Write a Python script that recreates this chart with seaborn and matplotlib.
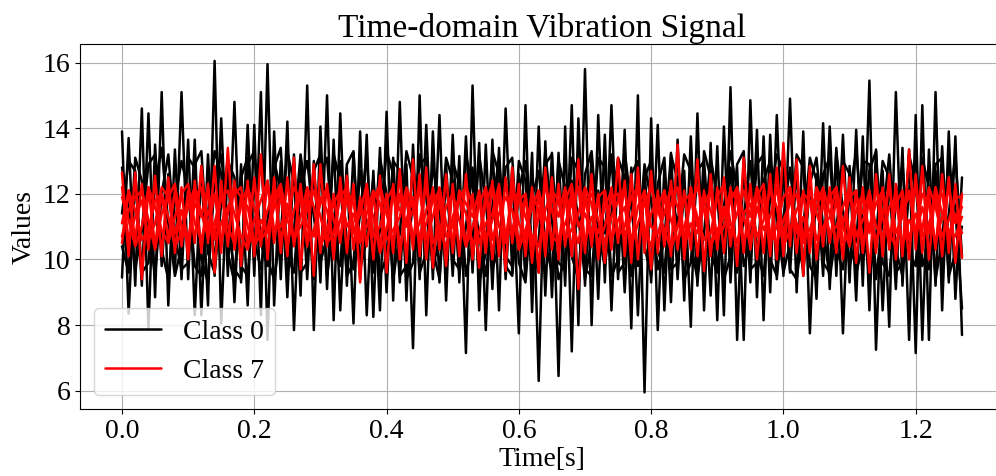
import matplotlib
matplotlib.use("Agg")
import matplotlib.pyplot as plt
import seaborn as sns

time_s = [
    0.00, 0.01, 0.02, 0.03, 0.04, 0.05, 0.06, 0.07, 0.08, 0.09, 0.10, 0.11, 0.12, 0.13, 0.14, 0.15,
    0.16, 0.17, 0.18, 0.19, 0.20, 0.21, 0.22, 0.23, 0.24, 0.25, 0.26, 0.27, 0.28, 0.29, 0.30, 0.31,
    0.32, 0.33, 0.34, 0.35, 0.36, 0.37, 0.38, 0.39, 0.40, 0.41, 0.42, 0.43, 0.44, 0.45, 0.46, 0.47,
    0.48, 0.49, 0.50, 0.51, 0.52, 0.53, 0.54, 0.55, 0.56, 0.57, 0.58, 0.59, 0.60, 0.61, 0.62, 0.63,
    0.64, 0.65, 0.66, 0.67, 0.68, 0.69, 0.70, 0.71, 0.72, 0.73, 0.74, 0.75, 0.76, 0.77, 0.78, 0.79,
    0.80, 0.81, 0.82, 0.83, 0.84, 0.85, 0.86, 0.87, 0.88, 0.89, 0.90, 0.91, 0.92, 0.93, 0.94, 0.95,
    0.96, 0.97, 0.98, 0.99, 1.00, 1.01, 1.02, 1.03, 1.04, 1.05, 1.06, 1.07, 1.08, 1.09, 1.10, 1.11,
    1.12, 1.13, 1.14, 1.15, 1.16, 1.17, 1.18, 1.19, 1.20, 1.21, 1.22, 1.23, 1.24, 1.25, 1.26, 1.27,
]

black_a = [
    13.9, 8.35, 12.6, 9.2, 14.45, 8.85, 15.1, 8.6, 13.35, 9.4, 13.65, 8.3, 12.85, 8.6, 16.05, 8.05,
    13.0, 8.7, 12.9, 8.6, 14.1, 8.3, 15.95, 8.6, 13.0, 8.85, 13.2, 8.9, 15.3, 7.85, 14.05, 9.1,
    13.65, 8.45, 12.8, 8.05, 13.9, 8.3, 12.7, 8.45, 14.5, 8.75, 14.8, 8.75, 13.5, 9.4, 14.1, 9.4,
    14.4, 8.75, 13.8, 9.3, 13.75, 9.6, 13.55, 7.85, 13.65, 8.45, 14.6, 9.6, 12.6, 9.4, 13.25, 6.3,
    13.6, 8.85, 13.25, 9.2, 14.7, 8.0, 15.8, 8.0, 14.4, 9.3, 14.7, 9.4, 13.95, 7.9, 15.0, 5.95,
    14.3, 7.85, 12.8, 8.7, 13.65, 8.75, 13.75, 9.2, 12.7, 8.9, 13.45, 8.3, 15.25, 7.55, 13.1, 9.3,
    13.95, 8.15, 13.8, 9.4, 12.9, 9.6, 12.8, 9.5, 12.7, 8.8, 14.15, 9.1, 13.4, 7.75, 12.85, 8.75,
    13.75, 8.45, 13.35, 8.45, 12.6, 9.1, 13.4, 7.55, 14.4, 7.55, 13.35, 9.2, 13.45, 9.3, 13.75, 7.7,
]
black_b = [
    9.45, 13.7, 9.2, 14.6, 7.9, 13.5, 9.8, 12.6, 9.6, 15.1, 9.4, 13.65, 8.3, 13.2, 9.5, 14.3,
    9.5, 14.8, 9.3, 14.1, 9.5, 15.1, 7.55, 13.9, 9.4, 14.2, 7.85, 12.9, 9.4, 13.0, 9.3, 15.0,
    8.15, 14.45, 9.2, 13.25, 9.4, 13.8, 8.25, 13.4, 9.0, 13.1, 9.3, 12.9, 7.3, 15.0, 8.3, 13.9,
    9.3, 12.9, 9.5, 13.15, 7.15, 15.3, 8.45, 13.5, 9.1, 13.4, 9.4, 12.8, 7.75, 14.7, 8.4, 14.05,
    8.9, 13.25, 6.45, 14.05, 7.2, 14.3, 9.2, 13.2, 8.8, 13.8, 8.45, 12.9, 9.0, 12.8, 8.3, 12.8,
    9.3, 14.1, 8.45, 13.25, 9.4, 12.7, 7.95, 14.45, 8.45, 13.55, 8.15, 14.05, 9.3, 12.8, 7.55, 14.85,
    8.85, 13.75, 9.0, 14.4, 9.5, 14.9, 9.0, 13.9, 7.75, 12.6, 9.5, 14.05, 9.5, 13.8, 9.3, 13.95,
    9.2, 15.45, 7.25, 12.7, 7.95, 15.1, 9.2, 13.35, 7.15, 14.7, 7.55, 15.1, 8.45, 13.9, 8.8, 12.5,
]
black_c = [
    12.8, 11.6, 9.7, 10.9, 12.9, 13.2, 10.3, 9.4, 11.8, 13.0, 12.1, 9.8, 9.5, 11.4, 13.3, 12.6,
    10.2, 9.3, 12.5, 13.1, 10.6, 9.7, 11.2, 12.8, 13.4, 10.1, 9.6, 12.2, 13.0, 11.3, 9.9, 10.7,
    13.2, 12.4, 9.5, 9.9, 12.7, 11.0, 10.4, 13.1, 12.0, 9.4, 10.8, 13.3, 12.5, 9.6, 10.2, 12.9,
    11.5, 9.8, 13.0, 12.3, 9.5, 10.6, 13.2, 11.7, 9.7, 10.4, 12.8, 13.1, 9.9, 9.3, 11.9, 12.7,
    10.5, 9.6, 13.0, 12.2, 10.1, 9.4, 12.6, 13.3, 10.8, 9.8, 11.4, 13.1, 12.5, 9.5, 10.3, 12.9,
    11.8, 9.7, 10.6, 13.2, 12.4, 9.4, 9.9, 12.7, 13.0, 10.2, 9.6, 11.6, 13.3, 12.1, 9.8, 10.5,
    12.9, 13.2, 10.0, 9.5, 11.3, 12.8, 10.7, 9.7, 12.3, 13.1, 11.0, 9.4, 10.9, 13.0, 12.6, 9.6,
    10.4, 12.7, 13.3, 9.9, 9.5, 11.7, 12.9, 10.2, 9.8, 13.1, 12.2, 9.4, 10.6, 13.0, 11.5, 8.5,
]
black_d = [
    11.4, 13.0, 12.7, 9.6, 9.9, 12.3, 13.4, 11.1, 9.5, 10.4, 13.1, 12.8, 10.0, 9.3, 12.4, 13.2,
    11.0, 9.7, 9.4, 12.9, 13.3, 10.5, 9.8, 13.0, 12.1, 9.6, 10.9, 13.2, 11.7, 9.4, 12.6, 13.1,
    10.3, 9.8, 12.9, 13.3, 9.7, 10.6, 12.5, 9.5, 10.1, 13.0, 12.7, 9.4, 9.9, 13.2, 11.9, 9.7,
    10.7, 13.1, 12.4, 9.6, 11.0, 12.8, 9.3, 10.2, 13.3, 12.6, 9.8, 9.5, 12.1, 13.0, 10.4, 9.6,
    12.9, 13.2, 9.9, 9.7, 12.4, 11.3, 9.4, 10.6, 13.1, 12.8, 9.5, 10.0, 13.3, 11.6, 9.8, 12.5,
    13.0, 10.3, 9.6, 12.2, 11.0, 13.2, 12.7, 9.5, 10.8, 13.1, 11.9, 9.4, 10.1, 12.9, 13.3, 9.7,
    9.9, 12.4, 13.0, 11.2, 9.6, 10.5, 13.2, 12.8, 9.8, 9.4, 12.6, 13.1, 10.3, 9.7, 12.0, 13.3,
    11.1, 9.5, 10.7, 13.0, 12.5, 9.6, 9.9, 13.2, 12.3, 9.8, 10.4, 12.9, 13.1, 9.5, 10.2, 11.0,
]
black_e = [
    10.4, 9.6, 13.1, 12.4, 11.0, 9.5, 12.0, 13.2, 10.7, 9.7, 9.9, 12.9, 13.3, 10.2, 9.6, 11.7,
    13.0, 12.5, 9.8, 9.5, 12.2, 13.1, 10.0, 9.4, 10.8, 13.3, 12.3, 9.6, 9.9, 12.7, 13.2, 9.5,
    11.1, 13.0, 10.5, 9.7, 11.4, 13.2, 9.6, 10.9, 13.3, 12.6, 9.5, 9.8, 11.8, 12.9, 13.1, 10.3,
    9.4, 12.5, 10.0, 9.7, 13.2, 12.2, 10.7, 9.5, 11.6, 13.1, 10.1, 9.8, 13.0, 12.4, 9.6, 10.6,
    13.3, 11.2, 9.4, 10.0, 13.1, 12.7, 9.7, 9.5, 12.1, 10.8, 13.2, 9.6, 9.9, 12.6, 13.0, 10.4,
    9.5, 12.3, 13.1, 9.7, 9.9, 12.0, 10.5, 9.4, 13.3, 12.5, 9.8, 10.7, 12.8, 9.6, 11.3, 13.0,
    10.2, 9.5, 11.9, 13.2, 12.7, 9.7, 9.4, 11.0, 13.1, 12.4, 9.9, 9.6, 13.3, 11.5, 9.8, 10.6,
    13.0, 12.9, 9.4, 11.2, 13.2, 10.3, 9.5, 12.1, 13.0, 10.0, 9.7, 12.7, 9.6, 11.4, 13.2, 10.1,
]

red_a = [
    12.65, 10.1, 12.65, 9.4, 12.2, 10.4, 12.0, 10.6, 12.1, 10.4, 12.1, 10.5, 12.85, 10.5, 12.85, 10.2,
    13.4, 10.3, 11.9, 10.4, 12.5, 10.4, 12.4, 10.5, 12.1, 10.1, 13.1, 9.7, 12.1, 9.5, 12.9, 10.4,
    12.0, 10.5, 12.55, 10.3, 11.9, 10.4, 12.0, 10.3, 12.0, 10.2, 12.75, 9.9, 13.05, 10.1, 12.8, 9.75,
    12.0, 9.8, 12.3, 10.1, 12.6, 10.0, 11.9, 10.2, 12.4, 10.1, 12.5, 10.5, 12.3, 10.1, 12.2, 9.6,
    12.8, 10.3, 12.3, 10.4, 12.2, 9.1, 12.1, 10.4, 12.0, 9.9, 12.2, 10.5, 12.4, 9.9, 12.8, 10.2,
    12.7, 10.2, 12.1, 10.1, 13.5, 10.0, 12.2, 10.1, 12.1, 10.1, 12.2, 10.2, 12.2, 9.8, 13.1, 10.3,
    12.2, 10.2, 12.6, 10.0, 13.55, 10.4, 13.05, 9.5, 12.85, 10.0, 12.0, 10.5, 11.9, 10.0, 12.5, 9.9,
    12.2, 9.6, 12.6, 10.1, 12.6, 10.0, 12.0, 10.0, 12.6, 10.2, 12.0, 10.3, 12.6, 10.2, 12.3, 10.05,
]
red_b = [
    10.5, 12.1, 10.6, 12.3, 10.3, 12.55, 10.1, 12.5, 10.2, 12.2, 10.0, 12.4, 10.2, 12.3, 9.6, 12.4,
    10.4, 12.4, 9.8, 12.4, 10.1, 13.2, 10.0, 12.5, 10.2, 12.5, 10.4, 12.3, 10.4, 12.9, 10.2, 12.3,
    10.0, 12.5, 10.2, 12.3, 9.3, 12.2, 10.0, 12.55, 9.6, 12.3, 10.0, 12.1, 10.3, 12.6, 10.0, 12.2,
    10.3, 12.6, 10.2, 12.1, 10.4, 12.0, 9.75, 12.2, 10.0, 12.2, 9.65, 12.8, 10.3, 12.0, 9.9, 12.1,
    10.1, 12.5, 10.0, 12.0, 10.1, 13.05, 10.2, 12.6, 10.0, 12.1, 10.3, 13.1, 10.1, 12.6, 10.0, 12.1,
    9.7, 12.1, 10.4, 12.4, 10.3, 12.1, 10.3, 13.05, 9.65, 12.6, 10.3, 12.5, 10.4, 12.2, 10.2, 12.3,
    10.0, 12.1, 10.1, 12.8, 10.1, 12.2, 10.2, 12.1, 10.2, 12.2, 10.4, 12.2, 10.2, 12.85, 10.4, 12.1,
    10.2, 12.1, 10.2, 12.2, 10.3, 12.3, 10.1, 13.35, 10.3, 12.85, 10.0, 12.2, 10.1, 12.5, 9.9, 12.0,
]
red_c = [
    11.9, 11.2, 10.4, 11.0, 12.2, 11.6, 10.9, 10.5, 11.3, 12.0, 12.3, 11.1, 10.6, 11.5, 10.8, 11.9,
    12.1, 11.4, 10.7, 10.3, 11.2, 11.8, 12.4, 10.9, 11.0, 11.7, 10.5, 11.3, 12.2, 11.6, 10.4, 10.9,
    11.7, 12.1, 11.0, 11.4, 10.6, 11.9, 11.3, 10.2, 10.9, 12.0, 11.5, 11.8, 10.7, 11.1, 12.3, 10.5,
    10.8, 11.6, 12.0, 11.2, 10.4, 11.0, 11.7, 12.2, 10.6, 11.4, 11.9, 11.5, 10.3, 10.9, 11.6, 12.1,
    11.3, 10.7, 10.5, 11.8, 12.3, 11.0, 11.4, 10.8, 11.9, 12.1, 10.6, 11.2, 11.6, 10.4, 11.1, 11.7,
    12.2, 11.5, 10.9, 10.3, 11.0, 11.8, 12.0, 11.3, 10.6, 10.8, 11.9, 12.3, 11.1, 10.5, 11.4, 11.7,
    10.7, 11.2, 12.1, 11.6, 10.4, 10.9, 11.5, 12.0, 11.8, 10.6, 11.0, 11.3, 12.2, 10.5, 10.8, 11.9,
    11.4, 12.1, 11.0, 10.7, 11.6, 11.9, 10.4, 11.2, 10.9, 12.0, 11.7, 10.5, 11.3, 12.2, 11.1, 11.6,
]
red_d = [
    11.1, 12.1, 11.5, 10.6, 10.9, 11.8, 12.0, 11.3, 10.4, 10.8, 11.6, 12.2, 11.4, 10.7, 11.1, 12.0,
    11.0, 10.5, 11.7, 12.2, 11.6, 10.6, 10.9, 11.9, 12.3, 11.2, 10.7, 11.0, 11.5, 12.1, 11.3, 10.5,
    10.8, 11.9, 12.2, 11.0, 10.5, 11.4, 12.1, 11.7, 10.6, 10.9, 11.3, 12.2, 11.6, 10.4, 11.1, 11.8,
    12.1, 10.7, 11.0, 11.9, 11.4, 10.5, 10.8, 11.7, 12.3, 11.0, 10.6, 11.9, 12.0, 11.3, 10.7, 10.4,
    11.5, 12.1, 11.8, 10.6, 10.9, 11.4, 12.2, 11.7, 10.5, 11.0, 11.9, 12.0, 10.7, 11.3, 12.2, 10.9,
    10.4, 11.6, 12.1, 11.2, 10.6, 11.0, 11.7, 12.2, 11.5, 10.4, 10.9, 11.3, 12.1, 11.8, 10.6, 11.0,
    11.9, 12.3, 10.8, 10.5, 11.2, 11.7, 12.0, 10.7, 10.9, 11.6, 12.2, 11.4, 10.5, 11.1, 11.9, 12.1,
    10.6, 11.0, 11.7, 12.1, 10.8, 10.4, 11.5, 11.9, 12.2, 10.7, 11.1, 11.8, 12.0, 10.6, 11.4, 10.8,
]
red_e = [
    10.7, 11.5, 11.9, 12.1, 11.2, 10.3, 11.4, 11.9, 12.3, 11.0, 10.5, 11.7, 11.3, 12.2, 10.6, 11.1,
    11.6, 12.0, 12.2, 11.0, 10.4, 10.8, 11.5, 12.1, 10.6, 11.3, 12.2, 11.8, 10.5, 10.9, 11.7, 12.2,
    11.2, 10.6, 11.9, 10.8, 11.4, 12.3, 10.7, 11.0, 11.8, 12.2, 10.4, 11.2, 11.9, 10.6, 11.5, 12.1,
    10.9, 10.4, 11.3, 11.9, 12.2, 11.7, 10.5, 11.1, 11.4, 12.3, 10.7, 10.9, 11.8, 12.0, 10.4, 11.3,
    12.2, 11.5, 10.6, 11.1, 11.7, 12.2, 10.5, 11.3, 10.8, 11.6, 12.1, 10.7, 11.0, 11.9, 12.2, 10.5,
    11.4, 11.9, 10.6, 11.7, 12.2, 10.4, 11.1, 10.8, 12.0, 11.5, 10.7, 11.0, 11.8, 12.2, 11.3, 10.4,
    11.6, 10.9, 11.3, 12.2, 10.7, 11.9, 11.1, 10.5, 12.1, 11.4, 10.8, 11.9, 12.2, 11.0, 10.4, 11.5,
    12.0, 10.8, 12.2, 11.3, 10.5, 11.7, 12.1, 10.6, 11.4, 10.9, 12.2, 11.6, 10.7, 11.2, 11.9, 11.9,
]
red_f = [
    12.2, 10.6, 11.3, 11.8, 10.6, 11.1, 12.2, 11.9, 10.8, 11.5, 10.6, 11.9, 12.2, 10.9, 12.0, 10.5,
    11.4, 12.2, 11.9, 11.6, 10.5, 11.2, 10.8, 11.6, 12.2, 10.4, 11.5, 12.1, 11.0, 10.7, 11.9, 11.5,
    10.5, 11.2, 12.1, 11.7, 10.7, 11.0, 11.8, 12.3, 11.4, 10.5, 12.0, 11.0, 11.5, 12.1, 10.6, 11.3,
    12.2, 11.1, 10.6, 12.1, 11.7, 11.3, 12.1, 10.6, 11.2, 11.9, 10.5, 12.2, 11.1, 10.6, 12.0, 11.5,
    10.6, 11.9, 11.3, 12.2, 11.1, 10.5, 11.7, 12.0, 11.2, 10.5, 11.3, 11.8, 12.2, 10.5, 11.6, 12.1,
    11.0, 10.8, 11.4, 12.2, 11.6, 10.6, 12.2, 11.0, 11.7, 12.1, 10.5, 11.6, 10.8, 11.4, 12.1, 11.3,
    12.2, 11.5, 10.6, 11.0, 11.9, 12.2, 10.8, 11.3, 10.6, 12.2, 11.7, 10.8, 11.0, 11.6, 12.2, 10.7,
    11.2, 11.7, 10.5, 11.4, 12.2, 10.8, 11.3, 12.1, 10.7, 11.6, 10.8, 12.2, 11.4, 10.9, 10.7, 11.3,
]

sns.set_style("ticks")
plt.rcParams["font.family"] = ["Liberation Serif", "DejaVu Serif"]
plt.rcParams["text.color"] = "black"
plt.rcParams["xtick.direction"] = "out"
plt.rcParams["ytick.direction"] = "out"

fig = plt.figure(figsize=(9.96, 4.76), dpi=100)
ax = fig.add_axes([80 / 996, 67 / 476, 924 / 996, 364.7 / 476])

for i, series in enumerate([black_a, black_b, black_c, black_d, black_e]):
    sns.lineplot(x=time_s, y=series, color="black", linewidth=1.8, errorbar=None, ax=ax,
                 label="Class 0" if i == 0 else None)
for i, series in enumerate([red_a, red_b, red_c, red_d, red_e, red_f]):
    sns.lineplot(x=time_s, y=series, color="red", linewidth=1.8, errorbar=None, ax=ax,
                 label="Class 7" if i == 0 else None)

ax.set_title("Time-domain Vibration Signal", fontsize=24, pad=5, color="black")
ax.set_xlabel("Time[s]", fontsize=20, color="black", labelpad=2)
ax.set_ylabel("Values", fontsize=20, color="black", labelpad=4)
ax.tick_params(labelsize=20, colors="black", color="black", width=0.8, length=3.5)
ax.grid(True, color="#b0b0b0", linewidth=0.8)
ax.set_axisbelow(True)
for spine in ax.spines.values():
    spine.set_color("black")
    spine.set_linewidth(0.8)
ax.legend(loc="lower left", fontsize=20, frameon=True, framealpha=0.8, edgecolor="#cccccc")

plt.savefig("out.png", dpi=100)
